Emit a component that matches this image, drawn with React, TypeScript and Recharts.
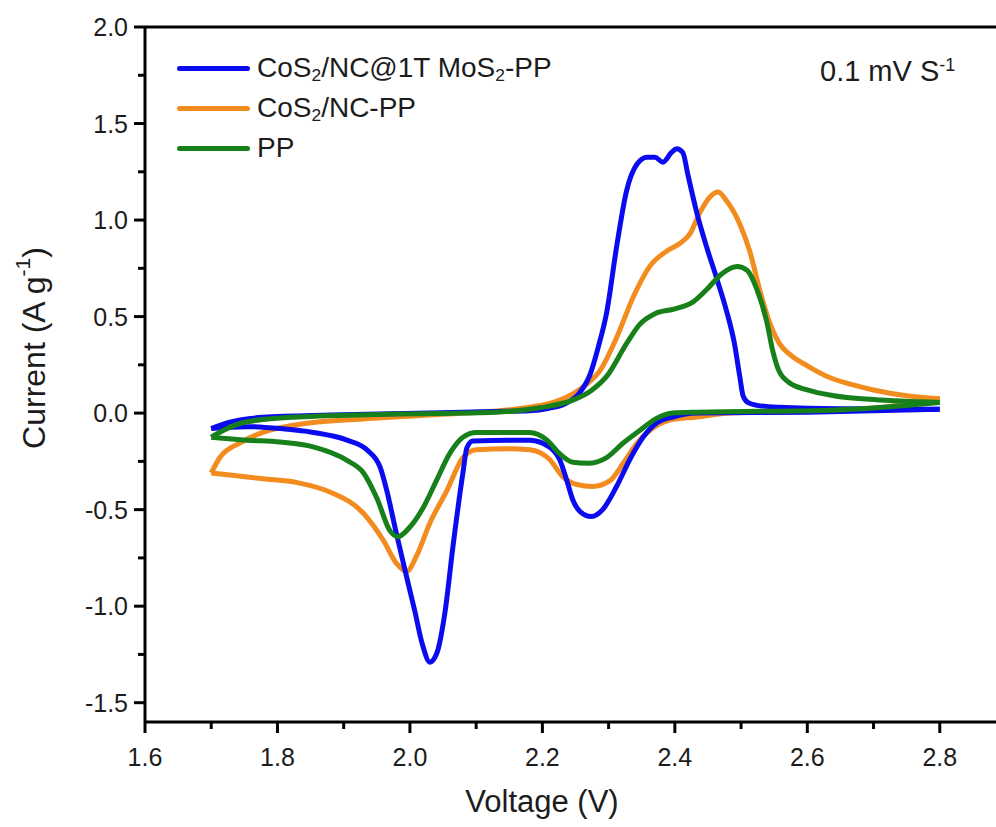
import React from 'react';
import { LineChart, Line, XAxis, YAxis, ReferenceLine } from 'recharts';

type Pt = [number, number];

const FONT = '"Liberation Sans", Arial, Helvetica, sans-serif';

// [voltage V, current A/g]; anodic sweep 1.7 -> 2.8 V, cathodic sweep listed by rising voltage
const mosUp: Pt[] = [
  [1.7, -0.08], [1.728, -0.047], [1.778, -0.022], [1.88, -0.01], [2.03, 0.0], [2.13, 0.008],
  [2.18, 0.012], [2.21, 0.025], [2.235, 0.05], [2.255, 0.1], [2.272, 0.2], [2.285, 0.35],
  [2.297, 0.52], [2.312, 0.86], [2.327, 1.15], [2.343, 1.29], [2.358, 1.325], [2.37, 1.325],
  [2.382, 1.3], [2.395, 1.35], [2.403, 1.37], [2.412, 1.35], [2.42, 1.23], [2.433, 1.04],
  [2.448, 0.86], [2.463, 0.7], [2.478, 0.53], [2.49, 0.36], [2.498, 0.19], [2.503, 0.09],
  [2.51, 0.055], [2.524, 0.04], [2.558, 0.03], [2.65, 0.022], [2.8, 0.02],
];
const mosDown: Pt[] = [
  [1.7, -0.08], [1.754, -0.07], [1.804, -0.08], [1.854, -0.1], [1.905, -0.14], [1.935, -0.19],
  [1.955, -0.28], [1.965, -0.4], [1.978, -0.6], [1.993, -0.82], [2.007, -1.02], [2.019, -1.2],
  [2.03, -1.29], [2.041, -1.24], [2.053, -1.03], [2.065, -0.69], [2.08, -0.31], [2.086, -0.18],
  [2.095, -0.145], [2.15, -0.14], [2.181, -0.14], [2.211, -0.176], [2.226, -0.24], [2.237, -0.35],
  [2.246, -0.45], [2.257, -0.51], [2.274, -0.536], [2.291, -0.5], [2.312, -0.38], [2.332, -0.24],
  [2.352, -0.125], [2.373, -0.05], [2.397, -0.02], [2.433, 0.0], [2.6, 0.005], [2.8, 0.02],
];

const ncUp: Pt[] = [
  [1.7, -0.31], [1.713, -0.23], [1.743, -0.155], [1.778, -0.1], [1.83, -0.06], [1.93, -0.03],
  [2.08, 0.0], [2.18, 0.03], [2.22, 0.06], [2.246, 0.1], [2.267, 0.15], [2.287, 0.22],
  [2.312, 0.39], [2.337, 0.6], [2.362, 0.76], [2.388, 0.84], [2.408, 0.88], [2.423, 0.93],
  [2.438, 1.04], [2.453, 1.12], [2.465, 1.145], [2.478, 1.1], [2.498, 0.98], [2.513, 0.84],
  [2.528, 0.64], [2.543, 0.47], [2.558, 0.36], [2.575, 0.3], [2.6, 0.245], [2.63, 0.19],
  [2.665, 0.15], [2.7, 0.12], [2.75, 0.09], [2.8, 0.075],
];
const ncDown: Pt[] = [
  [1.7, -0.31], [1.728, -0.32], [1.778, -0.34], [1.83, -0.36], [1.88, -0.41], [1.93, -0.52],
  [1.96, -0.66], [1.98, -0.78], [1.995, -0.82], [2.01, -0.74], [2.03, -0.57], [2.056, -0.4],
  [2.08, -0.23], [2.1, -0.19], [2.15, -0.185], [2.181, -0.19], [2.211, -0.24], [2.231, -0.33],
  [2.252, -0.37], [2.276, -0.38], [2.302, -0.35], [2.322, -0.26], [2.343, -0.155], [2.362, -0.09],
  [2.392, -0.036], [2.433, -0.02], [2.483, 0.0], [2.6, 0.01], [2.7, 0.025], [2.8, 0.075],
];

const ppUp: Pt[] = [
  [1.7, -0.125], [1.718, -0.09], [1.754, -0.045], [1.83, -0.02], [1.98, -0.005], [2.13, 0.005],
  [2.196, 0.028], [2.246, 0.067], [2.275, 0.12], [2.297, 0.19], [2.327, 0.36], [2.347, 0.46],
  [2.37, 0.515], [2.4, 0.54], [2.427, 0.575], [2.448, 0.64], [2.472, 0.725], [2.494, 0.76],
  [2.509, 0.74], [2.524, 0.64], [2.539, 0.47], [2.548, 0.32], [2.557, 0.22], [2.572, 0.16],
  [2.6, 0.12], [2.64, 0.09], [2.7, 0.07], [2.8, 0.055],
];
const ppDown: Pt[] = [
  [1.7, -0.125], [1.754, -0.14], [1.804, -0.15], [1.854, -0.175], [1.905, -0.245], [1.93, -0.31],
  [1.95, -0.44], [1.97, -0.61], [1.982, -0.64], [2.0, -0.59], [2.02, -0.49], [2.04, -0.35],
  [2.06, -0.21], [2.08, -0.125], [2.1, -0.1], [2.15, -0.1], [2.181, -0.1], [2.207, -0.14],
  [2.226, -0.21], [2.246, -0.255], [2.269, -0.26], [2.297, -0.23], [2.322, -0.155], [2.347, -0.09],
  [2.373, -0.026], [2.397, 0.0], [2.433, 0.005], [2.634, 0.015], [2.8, 0.055],
];

const xMajor = [1.6, 1.8, 2.0, 2.2, 2.4, 2.6, 2.8];
const xMinor = [1.7, 1.9, 2.1, 2.3, 2.5, 2.7];
const yMajor = [-1.5, -1.0, -0.5, 0.0, 0.5, 1.0, 1.5, 2.0];
const yMinor = [-1.25, -0.75, -0.25, 0.25, 0.75, 1.25, 1.75];

const BLUE = '#0b0bef';
const ORANGE = '#f28c1f';
const GREEN = '#17801a';
const TEXT = '#1c1c1c';

const toRows = (pts: Pt[]) => pts.map(([v, i]) => ({ v, i }));

function XTick({ x, y, payload }: any) {
  const major = xMajor.includes(payload.value);
  return (
    <g>
      <line x1={x} x2={x} y1={y} y2={y + (major ? 11 : 7)} stroke="#000" strokeWidth={3} />
      {major && (
        <text x={x} y={y + 44} textAnchor="middle" fontSize={25} fontFamily={FONT} fill={TEXT}>
          {payload.value.toFixed(1)}
        </text>
      )}
    </g>
  );
}

function YTick({ x, y, payload }: any) {
  const major = yMajor.includes(payload.value);
  return (
    <g>
      <line x1={x - (major ? 11 : 7)} x2={x} y1={y} y2={y} stroke="#000" strokeWidth={3} />
      {major && (
        <text x={x - 17} y={y + 9} textAnchor="end" fontSize={25} fontFamily={FONT} fill={TEXT}>
          {payload.value.toFixed(1)}
        </text>
      )}
    </g>
  );
}

function YTitle({ viewBox }: any) {
  const cx = viewBox.x + 34;
  const cy = viewBox.y + 321;
  return (
    <text
      x={cx}
      y={cy}
      transform={`rotate(-90 ${cx} ${cy})`}
      textAnchor="middle"
      dominantBaseline="central"
      fontSize={32}
      fontFamily={FONT}
      fill={TEXT}
    >
      Current (A g<tspan dy={-12} fontSize={21}>-1</tspan>
      <tspan dy={12}>)</tspan>
    </text>
  );
}

function XTitle({ viewBox }: any) {
  return (
    <text
      x={viewBox.x + 397}
      y={viewBox.y + 90}
      textAnchor="middle"
      fontSize={31}
      fontFamily={FONT}
      fill={TEXT}
    >
      Voltage (V)
    </text>
  );
}

const legendItems = [
  { color: BLUE, label: <>CoS<sub>2</sub>/NC@1T MoS<sub>2</sub>-PP</> },
  { color: ORANGE, label: <>CoS<sub>2</sub>/NC-PP</> },
  { color: GREEN, label: <>PP</> },
];

function LegendBox() {
  return (
    <div style={{ position: 'absolute', left: 177, top: 48, fontFamily: FONT, fontSize: 28, color: TEXT }}>
      {legendItems.map((it, k) => (
        <div key={k} style={{ display: 'flex', alignItems: 'center', height: 40, whiteSpace: 'nowrap' }}>
          <span
            style={{
              display: 'inline-block',
              width: 73,
              height: 5,
              borderRadius: 3,
              background: it.color,
              marginRight: 7,
            }}
          />
          <span style={{ lineHeight: '40px' }}>{it.label}</span>
        </div>
      ))}
    </div>
  );
}

const subStyle = `sub { font-size: 0.62em; vertical-align: -0.25em; line-height: 0; }`;

export default function App() {
  const lw = 5;
  return (
    <div
      style={{
        position: 'absolute',
        left: 0,
        top: 0,
        width: 996,
        height: 827,
        overflow: 'hidden',
        background: '#fff',
      }}
    >
      <style>{subStyle}</style>
      <LineChart width={1006} height={827} margin={{ top: 27, right: 0, left: 0, bottom: 0 }}>
        <XAxis
          type="number"
          dataKey="v"
          domain={[1.6, 2.9]}
          ticks={[...xMajor, ...xMinor].sort((a, b) => a - b)}
          interval={0}
          height={105}
          tickSize={0}
          tickMargin={0}
          tickLine={false}
          axisLine={{ stroke: '#000', strokeWidth: 3 }}
          tick={<XTick />}
          label={<XTitle />}
          allowDataOverflow
        />
        <YAxis
          type="number"
          dataKey="i"
          domain={[-1.6, 2.0]}
          ticks={[...yMajor, ...yMinor].sort((a, b) => a - b)}
          interval={0}
          width={145}
          tickSize={0}
          tickMargin={0}
          tickLine={false}
          axisLine={{ stroke: '#000', strokeWidth: 3 }}
          tick={<YTick />}
          label={<YTitle />}
          allowDataOverflow
        />
        <ReferenceLine y={2.0} stroke="#000" strokeWidth={3} />
        <Line data={toRows(ncUp)} dataKey="i" type="monotoneX" stroke={ORANGE} strokeWidth={lw} dot={false} activeDot={false} isAnimationActive={false} />
        <Line data={toRows(ncDown)} dataKey="i" type="monotoneX" stroke={ORANGE} strokeWidth={lw} dot={false} activeDot={false} isAnimationActive={false} />
        <Line data={toRows(mosUp)} dataKey="i" type="monotoneX" stroke={BLUE} strokeWidth={lw} dot={false} activeDot={false} isAnimationActive={false} />
        <Line data={toRows(mosDown)} dataKey="i" type="monotoneX" stroke={BLUE} strokeWidth={lw} dot={false} activeDot={false} isAnimationActive={false} />
        <Line data={toRows(ppUp)} dataKey="i" type="monotoneX" stroke={GREEN} strokeWidth={lw} dot={false} activeDot={false} isAnimationActive={false} />
        <Line data={toRows(ppDown)} dataKey="i" type="monotoneX" stroke={GREEN} strokeWidth={lw} dot={false} activeDot={false} isAnimationActive={false} />
      </LineChart>
      <LegendBox />
      <div
        style={{
          position: 'absolute',
          left: 820,
          top: 56,
          fontFamily: FONT,
          fontSize: 29,
          lineHeight: '30px',
          color: TEXT,
          whiteSpace: 'nowrap',
        }}
      >
        0.1 mV S<sup style={{ fontSize: '0.62em', verticalAlign: '0.55em', lineHeight: 0 }}>-1</sup>
      </div>
    </div>
  );
}
